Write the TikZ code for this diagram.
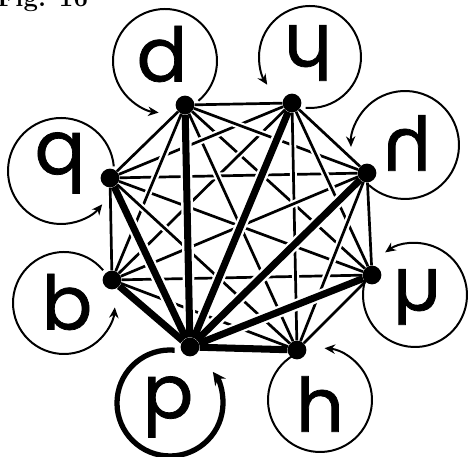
\documentclass[tikz,border=0pt]{standalone}
\usepackage{fontspec}
\usepackage{graphicx}
\newfontfamily\letterfont[FakeBold=1]{Poppins}
\usetikzlibrary{arrows.meta}
\begin{document}
\begin{tikzpicture}[x=0.03cm,y=0.03cm,
  dot/.style={circle,fill=black,inner sep=0pt,minimum size=16pt},
  lett/.style={inner sep=0pt,font=\letterfont\fontsize{64}{64}\selectfont},
  thinedge/.style={line width=2.3pt,preaction={draw=white,line width=6pt,shorten <=15pt,shorten >=15pt}},
  thickedge/.style={line width=6pt,preaction={draw=white,line width=10pt,shorten <=17pt,shorten >=17pt}},
  loopc/.style={line width=1.7pt,-{Stealth[length=9pt,width=8pt]}},
  loopthick/.style={line width=4.5pt,-{Stealth[length=11pt,width=11pt]}},
  figlabel/.style={anchor=base west,inner sep=0pt,font=\fontsize{22}{22}\selectfont\bfseries}
  ]
\useasboundingbox (0,0) rectangle (469,457);
\clip (0,0) rectangle (469,457);
% caption
\node[figlabel] (fig) at (-3,450) {Fig. 16};
% dots
\node[dot] (D) at (185,352) {};
\node[dot] (C) at (292,354) {};
\node[dot] (R) at (367,284) {};
\node[dot] (M) at (372,182) {};
\node[dot] (H) at (297,107) {};
\node[dot] (P) at (190,110) {};
\node[dot] (B) at (112,177) {};
\node[dot] (Q) at (110,279) {};
% loop centers
\coordinate (cD) at (165,396);
\coordinate (cC) at (310,400);
\coordinate (cR) at (405,312);
\coordinate (cM) at (415,162);
\coordinate (cH) at (320,57);
\coordinate (cP) at (170,54);
\coordinate (cB) at (64,154);
\coordinate (cQ) at (61,286);
% loops
\draw[loopc] (cD) ++(-50:52) arc[start angle=-50,end angle=263,radius=52];
\draw[loopc] (cC) ++(265:51) arc[start angle=265,end angle=573,radius=51];
\draw[loopc] (cR) ++(228:54) arc[start angle=228,end angle=542,radius=54];
\draw[loopc] (cM) ++(160:52) arc[start angle=160,end angle=485,radius=52];
\draw[loopc] (cH) ++(120:52) arc[start angle=120,end angle=445,radius=52];
\draw[loopc] (cB) ++(40:51) arc[start angle=40,end angle=355,radius=51];
\draw[loopc] (cQ) ++(5:53) arc[start angle=5,end angle=321,radius=53];
\draw[loopthick] (cP) ++(85:53) arc[start angle=85,end angle=396,radius=53];
% letters
\node[lett] (lD) at (162,403) {d};
\node[lett] (lC) at (308,404) {\rotatebox[origin=c]{180}{h}};
\node[lett] (lR) at (407,314) {\reflectbox{h}};
\node[lett] (lM) at (417,160) {\scalebox{1}[-1]{h}};
\node[lett] (lH) at (320,53) {h};
\node[lett] (lP) at (168,50) {p};
\node[lett] (lB) at (67,155) {b};
\node[lett] (lQ) at (60,294) {q};
% thin edges
\draw[thinedge] (D) -- (C);
\draw[thinedge] (Q) -- (B);
\draw[thinedge] (R) -- (M);
\draw[thinedge] (D) -- (M);
\draw[thinedge] (C) -- (B);
\draw[thinedge] (Q) -- (R);
\draw[thinedge] (D) -- (H);
\draw[thinedge] (C) -- (Q);
\draw[thinedge] (B) -- (M);
\draw[thinedge] (D) -- (R);
\draw[thinedge] (C) -- (H);
\draw[thinedge] (Q) -- (M);
\draw[thinedge] (B) -- (R);
\draw[thinedge] (D) -- (B);
\draw[thinedge] (C) -- (R);
\draw[thinedge] (H) -- (M);
\draw[thinedge] (Q) -- (H);
\draw[thinedge] (D) -- (Q);
\draw[thinedge] (C) -- (M);
\draw[thinedge] (B) -- (H);
\draw[thinedge] (R) -- (H);
% thick edges
\draw[thickedge] (P) -- (D);
\draw[thickedge] (P) -- (C);
\draw[thickedge] (P) -- (R);
\draw[thickedge] (P) -- (M);
\draw[thickedge] (P) -- (H);
\draw[thickedge] (P) -- (B);
\draw[thickedge] (P) -- (Q);
\end{tikzpicture}
\end{document}
